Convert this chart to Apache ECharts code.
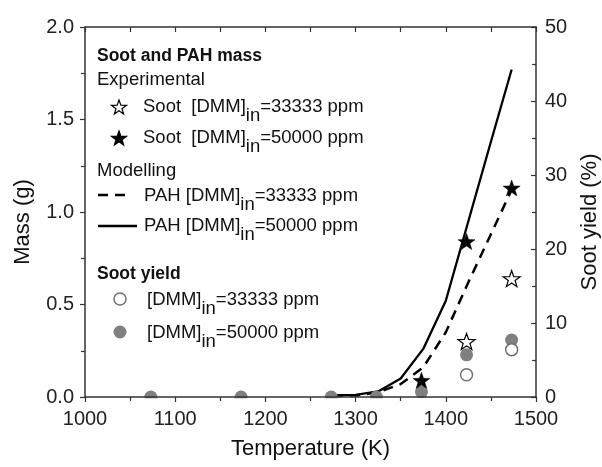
<!DOCTYPE html>
<html>
<head>
<meta charset="utf-8">
<script src="https://cdn.jsdelivr.net/npm/echarts@6/dist/echarts.min.js"></script>
<style>
  html, body { margin: 0; padding: 0; background: #fff; }
  #chart { width: 602px; height: 467px; }
</style>
</head>
<body>
<div id="chart"></div>
<script>
// modelled PAH mass (g)
var modelTemps = [1275, 1300, 1325, 1350, 1375, 1400, 1425, 1450, 1473];
var pah33333 = [0.005, 0.008, 0.025, 0.07, 0.16, 0.35, 0.62, 0.88, 1.12];
var pah50000 = [0.01, 0.012, 0.03, 0.10, 0.26, 0.52, 0.95, 1.38, 1.77];

// experimental soot mass (g)
var sootTemps33333 = [1423, 1473];
var soot33333 = [0.30, 0.64];
var sootTemps50000 = [1373, 1423, 1473];
var soot50000 = [0.09, 0.84, 1.13];

// soot yield (%)
var yieldTemps33333 = [1423, 1473];
var yield33333 = [3.0, 6.4];
var yieldTemps50000 = [1073, 1173, 1273, 1323, 1373, 1423, 1473];
var yield50000 = [0, 0, 0, 0, 0.7, 5.7, 7.7];

var font = 'Liberation Sans, Arial, sans-serif';

// five point star outline, 100 x 90 box
var starPts = [[50, 0], [61.76, 33.82], [97.55, 34.55], [69.02, 56.18], [79.39, 90.45],
  [50, 70], [20.61, 90.45], [30.98, 56.18], [2.45, 34.55], [38.24, 33.82]];
var starPath = 'M' + starPts.map(function (p) { return p[0] + ' ' + p[1]; }).join(' L') + ' Z';

function pairs(xs, ys) {
  return xs.map(function (x, i) { return [x, ys[i]]; });
}

function label(x, y, text, bold) {
  return {
    type: 'text', x: x, y: y, z: 60,
    style: {
      text: text, fill: '#111', verticalAlign: 'middle',
      fontSize: bold ? 17.5 : 18.5, fontWeight: bold ? 'bold' : 'normal', fontFamily: font
    }
  };
}

function subLabel(x, y, before, after) {
  return {
    type: 'text', x: x, y: y, z: 60,
    style: {
      text: '{a|' + before + '}{s|in}{a|' + after + '}',
      verticalAlign: 'middle',
      rich: {
        a: { fontSize: 18.5, fontFamily: font, fill: '#111' },
        s: { fontSize: 18.5, fontFamily: font, fill: '#111', padding: [17, 0, 0, 0] }
      }
    }
  };
}

function starIcon(cx, cy, filled) {
  var pts = starPts.map(function (p) {
    return [cx - 7.5 + (p[0] - 2.45) * 15 / 95.1, cy - 7 + p[1] * 14 / 90.45];
  });
  return {
    type: 'polygon', z: 60,
    shape: { points: pts },
    style: { fill: filled ? '#000' : '#fff', stroke: '#000', lineWidth: 1.2 }
  };
}

var chart = echarts.init(document.getElementById('chart'));

var option = {
  backgroundColor: '#fff',
  animation: false,
  grid: { left: 85, right: 66, top: 27, bottom: 70, outerBoundsMode: 'none', containLabel: false },
  xAxis: [{
    type: 'value', position: 'bottom', min: 1000, max: 1500, interval: 100, z: 100,
    name: 'Temperature (K)', nameLocation: 'middle', nameGap: 41,
    nameTextStyle: { fontSize: 22, color: '#111', fontFamily: font },
    axisLine: { onZero: false, lineStyle: { color: '#333', width: 1.5 } },
    axisTick: { length: 5, lineStyle: { color: '#333', width: 1.2 } },
    minorTick: { show: true, splitNumber: 2, length: 4, lineStyle: { color: '#333', width: 1.2 } },
    axisLabel: { fontSize: 20, color: '#222', margin: 12, fontFamily: font,
      formatter: function (v) { return String(v); } },
    splitLine: { show: false }
  }, {
    type: 'value', position: 'top', min: 1000, max: 1500, interval: 50, z: 100,
    axisLine: { onZero: false, lineStyle: { color: '#333', width: 1.5 } },
    axisTick: { inside: true, length: 5, lineStyle: { color: '#333', width: 1.2 } },
    axisLabel: { show: false },
    splitLine: { show: false }
  }],
  yAxis: [{
    type: 'value', position: 'left', min: 0, max: 2, interval: 0.5, z: 100,
    name: 'Mass (g)', nameLocation: 'middle', nameGap: 51,
    nameTextStyle: { fontSize: 22, color: '#111', fontFamily: font, padding: [0, 20, 0, 0] },
    axisLine: { show: true, onZero: false, lineStyle: { color: '#333', width: 1.5 } },
    axisTick: { length: 5, lineStyle: { color: '#333', width: 1.2 } },
    minorTick: { show: true, splitNumber: 2, length: 4, lineStyle: { color: '#333', width: 1.2 } },
    axisLabel: { fontSize: 20, color: '#222', margin: 11, fontFamily: font,
      formatter: function (v) { return v.toFixed(1); } },
    splitLine: { show: false }
  }, {
    type: 'value', position: 'right', min: 0, max: 50, interval: 10, z: 100,
    name: 'Soot yield (%)', nameLocation: 'middle', nameGap: 43,
    nameTextStyle: { fontSize: 22, color: '#111', fontFamily: font, padding: [0, 20, 0, 0] },
    axisLine: { show: true, onZero: false, lineStyle: { color: '#333', width: 1.5 } },
    axisTick: { inside: true, length: 5, lineStyle: { color: '#333', width: 1.2 } },
    minorTick: { show: true, splitNumber: 2, length: 4, lineStyle: { color: '#333', width: 1.2 } },
    axisLabel: { fontSize: 20, color: '#222', margin: 9, fontFamily: font },
    splitLine: { show: false }
  }],
  series: [{
    name: 'PAH 33333', type: 'line', xAxisIndex: 0, yAxisIndex: 0,
    data: pairs(modelTemps, pah33333), symbol: 'none', z: 2,
    lineStyle: { color: '#000', width: 2.5, type: [10, 7] }
  }, {
    name: 'PAH 50000', type: 'line', xAxisIndex: 0, yAxisIndex: 0,
    data: pairs(modelTemps, pah50000), symbol: 'none', z: 2,
    lineStyle: { color: '#000', width: 2.3 }
  }, {
    name: 'Yield 50000', type: 'scatter', xAxisIndex: 0, yAxisIndex: 1,
    data: pairs(yieldTemps50000, yield50000), symbol: 'circle', symbolSize: 13, z: 3,
    itemStyle: { color: '#808080', opacity: 1 }
  }, {
    name: 'Yield 33333', type: 'scatter', xAxisIndex: 0, yAxisIndex: 1,
    data: pairs(yieldTemps33333, yield33333), symbol: 'circle', symbolSize: 12, z: 4,
    itemStyle: { color: '#fff', borderColor: '#707070', borderWidth: 1.5, opacity: 1 }
  }, {
    name: 'Soot 33333', type: 'scatter', xAxisIndex: 0, yAxisIndex: 0,
    data: pairs(sootTemps33333, soot33333), symbol: 'path://' + starPath, symbolSize: [17, 16], z: 5,
    itemStyle: { color: '#fff', borderColor: '#000', borderWidth: 1.2, opacity: 1 }
  }, {
    name: 'Soot 50000', type: 'scatter', xAxisIndex: 0, yAxisIndex: 0,
    data: pairs(sootTemps50000, soot50000), symbol: 'path://' + starPath, symbolSize: [17, 16], z: 5,
    itemStyle: { color: '#000', borderColor: '#000', borderWidth: 0.5, opacity: 1 }
  }],
  graphic: [
    // hides the part of the markers that falls below the x axis
    { type: 'rect', z: 50, shape: { x: 70, y: 398.2, width: 480, height: 12 }, style: { fill: '#fff' } },

    label(97, 56, 'Soot and PAH mass', true),
    label(97, 80, 'Experimental'),
    starIcon(119, 107, false),
    subLabel(143, 107, 'Soot  [DMM]', '=33333 ppm'),
    starIcon(119, 138, true),
    subLabel(143, 138, 'Soot  [DMM]', '=50000 ppm'),
    label(97, 171, 'Modelling'),
    { type: 'line', z: 60, shape: { x1: 98, y1: 195, x2: 128, y2: 195 },
      style: { stroke: '#000', lineWidth: 2.5, lineDash: [10, 7] } },
    subLabel(144, 196, 'PAH [DMM]', '=33333 ppm'),
    { type: 'line', z: 60, shape: { x1: 98, y1: 226, x2: 137, y2: 226 },
      style: { stroke: '#000', lineWidth: 2.3 } },
    subLabel(144, 226, 'PAH [DMM]', '=50000 ppm'),
    label(97, 274, 'Soot yield', true),
    { type: 'circle', z: 60, shape: { cx: 120, cy: 299, r: 6 },
      style: { fill: '#fff', stroke: '#707070', lineWidth: 1.5 } },
    subLabel(147, 300, '[DMM]', '=33333 ppm'),
    { type: 'circle', z: 60, shape: { cx: 120, cy: 332, r: 6.5 },
      style: { fill: '#808080' } },
    subLabel(147, 333, '[DMM]', '=50000 ppm')
  ]
};

chart.setOption(option);
window.addEventListener('resize', function () { chart.resize(); });
</script>
</body>
</html>
